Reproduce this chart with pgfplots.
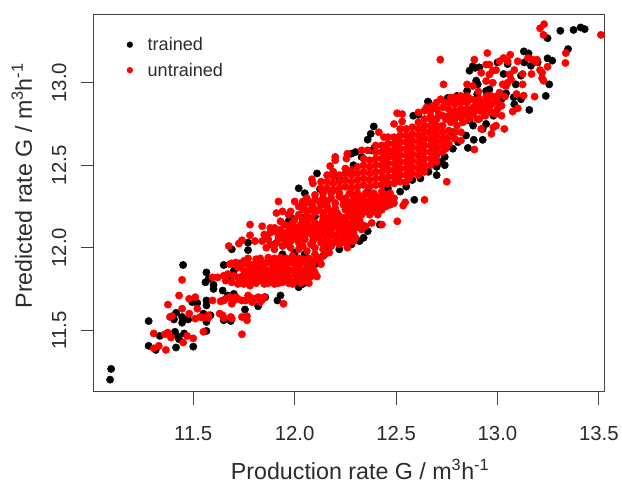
\documentclass[border=0pt]{standalone}
\usepackage{fontspec}
\setmainfont{Liberation Sans}
\usepackage{pgfplots}
\pgfplotsset{compat=1.18}
\definecolor{tx}{HTML}{2B2B2B}
\definecolor{ax}{HTML}{444444}
\begin{document}
\begin{tikzpicture}
\begin{axis}[
  at={(0,0)},anchor=south west,scale only axis,width=512bp,height=379bp,
  xmin=11.009,xmax=13.525,ymin=11.127,ymax=13.417,
  xtick={11.5,12,12.5,13,13.5},ytick={11.5,12,12.5,13},
  xticklabel style={/pgf/number format/fixed,/pgf/number format/fixed zerofill,/pgf/number format/precision=1,yshift=-18bp},
  yticklabel style={/pgf/number format/fixed,/pgf/number format/fixed zerofill,/pgf/number format/precision=1,rotate=90,anchor=south,yshift=11bp},
  /pgf/number format/assume math mode=true,
  tick align=outside,major tick length=13bp,
  tick pos=lower,
  axis line style={color=ax,line width=0.9bp},
  tick style={color=ax,line width=0.8bp},
  tick label style={font=\fontsize{20.5}{22}\selectfont,text=tx},
  xlabel={Production rate G / m\textsuperscript{3}h\textsuperscript{-1}},
  ylabel={Predicted rate G / m\textsuperscript{3}h\textsuperscript{-1}},
  label style={font=\fontsize{23.4}{26}\selectfont,text=tx},
  xlabel style={at={(axis description cs:0.522,-0.232)},anchor=base},
  ylabel style={at={(axis description cs:-0.121,0.545)},anchor=base},
  legend style={at={(axis description cs:0.059,0.949)},anchor=north west,draw=none,fill=none,font=\fontsize{18.2}{20}\selectfont,text=tx,row sep=7bp},
  legend cell align=left,
  legend image post style={mark size=2.9bp},
]
\addplot[only marks,mark=*,mark size=3.7bp,color=black] coordinates {
(11.095,11.265)(11.09,11.20)(11.28,11.555)(11.28,11.405)(11.335,11.465)(11.315,11.38)(11.415,11.395)(11.50,11.40)
(11.41,11.49)(11.425,11.46)(11.43,11.445)(11.455,11.48)(11.415,11.605)(11.405,11.565)(11.445,11.58)(11.445,11.545)
(11.475,11.565)(11.45,11.895)(11.565,11.85)(11.56,11.79)(11.575,11.81)(11.60,11.775)(11.60,11.75)(11.565,11.68)
(11.565,11.65)(11.52,11.665)(11.495,11.67)(11.55,11.60)(11.565,11.55)(11.585,11.59)(11.565,11.495)(11.645,11.74)
(11.67,11.71)(11.70,11.72)(11.65,11.56)(11.685,11.555)(11.755,11.625)(11.82,11.645)(11.855,11.70)(11.93,11.71)
(11.915,11.68)(11.65,11.895)(11.69,11.99)(11.77,11.985)(11.77,12.03)(11.70,11.86)(11.685,11.815)(11.81,11.865)
(11.985,12.18)(11.97,12.16)(12.11,12.45)(12.39,12.735)(12.375,12.69)(12.36,12.655)(12.395,12.61)(12.38,12.59)
(12.29,12.50)(12.28,12.57)(12.585,12.80)(12.61,12.805)(12.66,12.88)(12.59,12.29)(12.42,12.14)(12.25,12.03)
(11.98,12.17)(12.125,12.355)(12.04,12.18)(12.10,12.19)(11.90,12.02)(12.02,11.76)(12.04,11.78)(12.10,11.90)
(12.14,11.95)(12.30,12.32)(12.36,12.34)(12.40,12.28)(12.46,12.36)(12.58,12.41)(12.62,12.42)(12.66,12.46)
(12.28,12.02)(12.32,12.04)(12.22,11.99)(13.31,13.315)(13.375,13.32)(13.41,13.335)(13.43,13.325)(13.247,13.27)
(13.348,13.204)(13.13,13.19)(13.153,13.178)(13.247,13.148)(13.27,13.134)(13.165,13.103)(13.198,13.123)
(13.132,13.123)(12.878,13.1)(12.862,13.073)(12.91,13.093)(12.89,13.09)(13.0,13.123)(13.05,13.113)(13.116,13.043)
(13.03,13.053)(12.895,13.013)(12.903,12.99)(13.09,12.99)(13.255,12.99)(13.238,12.92)(13.116,12.9)(13.157,12.835)
(13.08,12.912)(13.083,12.87)(13.042,12.936)(12.944,12.95)(12.96,12.96)(12.657,12.886)(12.755,12.908)(12.92,12.88)
(12.952,12.87)(12.862,12.77)(12.944,12.75)(12.927,12.72)(12.883,12.654)(12.927,12.654)(12.845,12.68)(12.805,12.64)
(12.854,12.605)(12.674,12.65)(12.78,12.60)(12.74,12.55)(12.70,12.49)(12.72,12.52)(12.80,12.92)(12.98,12.80)
(12.02,12.36)(12.05,12.33)(12.18,12.34)(12.52,12.34)(12.55,12.37)(12.70,12.44)(12.74,12.50)(12.22,12.42)
(12.00,11.97)(12.05,11.96)(11.94,11.96)(12.17,12.00)(12.34,12.06)(12.36,12.10)(12.30,12.20)(12.36,12.22)
(12.48,12.58)(12.30,12.58)(12.33,12.55)(12.78,12.70)(12.88,12.74)(12.90,12.93)(12.85,12.95)(13.02,12.90)
};
\addlegendentry{\hspace{13bp}trained}
\addplot[only marks,mark=*,mark size=3.7bp,color=red] coordinates {
(11.305,11.48)(11.305,11.39)(11.33,11.405)(11.365,11.38)(11.36,11.475)(11.375,11.485)(11.39,11.455)(11.45,11.425)
(11.47,11.465)(11.50,11.45)(11.55,11.49)(11.74,11.475)(11.375,11.655)(11.385,11.58)(11.395,11.585)(11.43,11.71)
(11.445,11.805)(11.445,11.63)(11.48,11.69)(11.51,11.70)(11.52,11.63)(11.48,11.60)(11.51,11.57)(11.535,11.58)
(11.55,11.575)(11.575,11.59)(11.575,11.575)(11.595,11.68)(11.645,11.68)(11.65,11.68)(11.635,11.675)(11.63,11.60)
(11.645,11.59)(11.65,11.575)(11.685,11.58)(11.69,11.57)(11.74,11.58)(11.765,11.585)(11.765,11.56)(11.68,11.70)
(11.70,11.68)(11.74,11.68)(11.76,11.68)(11.80,11.69)(11.84,11.685)(11.85,11.70)(11.945,11.66)(11.595,11.82)
(11.78,12.14)(11.78,12.075)(11.675,12.01)(11.725,12.025)(11.74,12.045)(11.805,12.04)(11.84,12.13)(11.90,12.12)
(11.92,12.28)(11.91,12.21)(11.94,12.22)(11.97,12.20)
(11.66,11.69)(11.72,11.69)(11.78,11.70)(11.82,11.70)(11.71,11.70)(11.79,11.67)(11.83,11.67)(11.77,11.71)(11.69,11.66)
% band 1
(11.68,11.90)(11.71,11.91)(11.74,11.90)(11.77,11.91)(11.80,11.90)(11.83,11.92)(11.86,11.91)(11.89,11.92)(11.92,11.90)
(11.95,11.92)(11.98,11.91)(12.01,11.92)(11.72,11.88)(11.78,11.88)(11.84,11.89)(11.90,11.88)(11.96,11.88)(12.02,11.89)
(11.87,11.94)(11.93,11.94)(11.99,11.95)(12.04,11.93)(11.75,11.92)(11.81,11.93)(12.07,11.90)(12.11,11.93)
(11.69,11.905)(11.73,11.905)(11.76,11.905)(11.82,11.905)(11.88,11.905)(11.94,11.905)(12.00,11.905)(12.03,11.905)(12.06,11.905)(12.09,11.905)
(11.77,11.935)(11.83,11.935)(11.90,11.935)(11.96,11.935)(12.02,11.935)(12.07,11.935)(12.10,11.96)(12.15,11.96)
% band 2
(11.62,11.82)(11.66,11.80)(11.69,11.79)(11.73,11.80)(11.76,11.84)(11.79,11.79)(11.79,11.83)(11.82,11.85)(11.82,11.80)
(11.85,11.78)(11.85,11.83)(11.88,11.80)(11.88,11.84)(11.91,11.85)(11.91,11.81)(11.94,11.79)(11.94,11.83)(11.97,11.82)
(11.97,11.86)(12.0,11.80)(12.0,11.84)(12.03,11.81)(12.03,11.85)(12.06,11.83)(12.06,11.87)(11.76,11.80)(12.09,11.87)
(12.10,11.85)(12.13,11.90)(12.08,11.92)(12.13,11.94)(12.17,11.97)(11.83,11.82)(11.90,11.78)(11.95,11.81)(11.99,11.78)(12.05,11.80)(12.08,11.84)
(11.86,11.865)(11.89,11.865)(11.93,11.865)(11.95,11.865)(11.99,11.865)(12.01,11.865)(12.05,11.865)(12.08,11.865)
(11.74,11.825)(11.77,11.825)(11.80,11.825)(11.86,11.825)(11.89,11.825)(11.92,11.825)(11.96,11.825)(12.02,11.825)(12.05,11.825)(12.08,11.825)(12.11,11.825)
(11.81,11.785)(11.87,11.785)(11.92,11.785)(11.97,11.785)(12.03,11.785)(12.07,11.785)
(11.72,11.82)(11.75,11.86)(11.78,11.86)(11.81,11.86)(11.84,11.86)(11.72,11.78)(11.75,11.78)(11.78,11.77)(11.84,11.80)(11.76,11.82)(11.81,11.84)(11.87,11.82)(11.70,11.83)(11.67,11.84)(11.65,11.83)
% band 3
(11.86,12.00)(11.90,11.99)(11.94,12.01)(11.98,12.00)(12.02,11.99)(12.06,11.98)(12.10,12.00)(12.14,11.99)(12.18,12.01)(12.22,12.02)(12.26,12.00)
(11.84,12.04)(11.87,12.05)(11.91,12.03)(11.95,12.05)(11.98,12.04)(12.02,12.03)(12.05,12.05)(12.09,12.04)(12.13,12.03)(12.16,12.05)(12.20,12.06)(12.24,12.05)(12.27,12.04)(12.30,12.06)
(11.85,12.08)(11.88,12.09)(11.92,12.07)(11.96,12.09)(12.0,12.08)(12.03,12.07)(12.07,12.09)(12.11,12.08)(12.15,12.10)(12.18,12.08)(12.22,12.10)(12.26,12.09)(12.29,12.09)(12.33,12.11)
(11.88,12.12)(11.93,12.11)(11.97,12.13)(12.01,12.12)(12.05,12.11)(12.08,12.13)(12.12,12.12)(12.16,12.14)(12.20,12.13)(12.23,12.14)(12.27,12.13)(12.31,12.15)(12.35,12.13)(12.38,12.15)
(11.93,12.16)(11.99,12.15)(12.03,12.14)(12.06,12.16)(12.10,12.15)(12.14,12.17)(12.18,12.16)(12.21,12.17)(12.25,12.16)(12.29,12.18)
(11.88,12.02)(11.92,12.05)(11.96,12.02)(12.00,12.06)(12.04,12.01)(12.08,12.02)(12.12,12.06)(12.16,12.02)(12.20,12.04)(12.24,12.08)(12.28,12.07)
(11.90,12.10)(11.94,12.09)(11.98,12.11)(12.02,12.10)(12.06,12.13)(12.10,12.11)(12.14,12.13)(12.18,12.11)(12.22,12.12)(12.26,12.12)(12.30,12.12)
(11.95,12.14)(12.00,12.17)(12.04,12.17)(12.08,12.18)(12.12,12.14)(12.16,12.18)(12.20,12.15)(12.24,12.18)(12.28,12.15)(12.33,12.14)(12.32,12.17)
(11.92,12.09)(11.97,12.07)(12.01,12.05)(12.05,12.08)(12.09,12.07)(12.13,12.09)(12.17,12.07)(12.21,12.08)(12.25,12.03)(12.29,12.04)
(12.24,12.11)(12.28,12.11)(12.32,12.13)(12.25,12.07)(12.22,12.04)(12.19,12.03)(12.15,12.07)(12.12,12.09)(12.19,12.14)(12.25,12.14)
% band 4
(11.98,12.22)(12.02,12.20)(12.06,12.22)(12.10,12.21)(12.14,12.21)(12.18,12.22)(12.21,12.21)(12.25,12.23)(12.29,12.22)(12.33,12.23)(12.37,12.24)(12.40,12.23)(12.44,12.25)
(12.02,12.25)(12.05,12.26)(12.09,12.25)(12.13,12.26)(12.16,12.25)(12.20,12.27)(12.24,12.26)(12.28,12.27)(12.31,12.27)(12.35,12.28)(12.39,12.27)(12.43,12.29)(12.47,12.28)(12.49,12.30)
(12.06,12.30)(12.10,12.29)(12.14,12.30)(12.18,12.30)(12.22,12.31)(12.25,12.30)(12.29,12.31)(12.33,12.31)(12.37,12.32)(12.40,12.31)(12.44,12.32)
(12.00,12.28)(12.04,12.28)(12.08,12.27)(12.12,12.28)(12.16,12.28)(12.20,12.24)(12.24,12.29)(12.28,12.24)(12.32,12.29)(12.36,12.26)(12.41,12.29)(12.45,12.27)
(12.04,12.23)(12.08,12.23)(12.12,12.23)(12.16,12.23)(12.42,12.26)(12.31,12.245)(12.35,12.25)(12.39,12.25)(12.46,12.30)
(12.27,12.21)(12.31,12.21)(12.35,12.22)(12.39,12.22)(12.43,12.23)(12.47,12.26)(12.27,12.25)(12.33,12.26)(12.37,12.26)(12.41,12.25)(12.45,12.25)(12.49,12.27)(12.26,12.28)(12.30,12.29)(12.34,12.29)(12.38,12.29)(12.42,12.30)
(12.27,12.33)(12.31,12.33)(12.35,12.33)(12.39,12.33)(12.43,12.34)(12.47,12.33)(12.22,12.33)(12.18,12.33)(12.14,12.33)(12.10,12.32)(12.33,12.20)(12.37,12.20)(12.26,12.19)(12.22,12.19)(12.18,12.19)(12.14,12.19)(12.06,12.19)
(12.535,12.255)(12.545,12.275)(12.64,12.29)(12.506,12.16)(12.75,12.40)(12.41,12.20)(12.43,12.14)
% band 5
(12.2,12.55)(12.2,12.53)(12.26,12.57)(12.255,12.54)(12.175,12.495)(12.085,12.415)(12.09,12.39)(12.33,12.59)(12.36,12.59)
(12.415,12.70)(12.44,12.67)(12.49,12.75)(12.505,12.815)(12.53,12.81)(12.53,12.765)
(12.13,12.36)(12.13,12.40)(12.16,12.36)(12.16,12.40)(12.16,12.44)(12.19,12.35)(12.19,12.39)(12.19,12.43)(12.19,12.46)
(12.22,12.36)(12.22,12.40)(12.22,12.44)(12.25,12.37)(12.25,12.41)(12.25,12.45)(12.25,12.48)(12.28,12.36)(12.28,12.40)(12.28,12.44)(12.28,12.47)
(12.31,12.37)(12.31,12.41)(12.31,12.45)(12.31,12.49)(12.34,12.38)(12.34,12.42)(12.34,12.46)(12.34,12.50)(12.34,12.54)
(12.37,12.37)(12.37,12.41)(12.37,12.45)(12.37,12.49)(12.37,12.53)(12.40,12.38)(12.40,12.42)(12.40,12.46)(12.40,12.50)(12.40,12.54)(12.40,12.58)(12.40,12.62)
(12.43,12.38)(12.43,12.42)(12.43,12.46)(12.43,12.50)(12.43,12.54)(12.43,12.58)(12.43,12.62)(12.46,12.39)(12.46,12.43)(12.46,12.47)(12.46,12.51)(12.46,12.55)(12.46,12.59)(12.46,12.63)(12.46,12.67)
(12.49,12.39)(12.49,12.43)(12.49,12.47)(12.49,12.51)(12.49,12.55)(12.49,12.59)(12.49,12.63)(12.49,12.67)
(12.52,12.40)(12.52,12.44)(12.52,12.48)(12.52,12.52)(12.52,12.56)(12.52,12.60)(12.52,12.64)(12.52,12.68)(12.52,12.72)
(12.55,12.40)(12.55,12.44)(12.55,12.48)(12.55,12.52)(12.55,12.56)(12.55,12.60)(12.55,12.64)(12.55,12.68)(12.55,12.72)
(12.58,12.45)(12.58,12.49)(12.58,12.53)(12.58,12.57)(12.58,12.61)(12.58,12.65)(12.58,12.69)(12.58,12.73)
(12.61,12.44)(12.61,12.48)(12.61,12.52)(12.61,12.56)(12.61,12.60)(12.61,12.64)(12.61,12.68)(12.61,12.72)(12.61,12.76)
(12.64,12.46)(12.64,12.50)(12.64,12.54)(12.64,12.58)(12.64,12.62)(12.64,12.70)(12.64,12.74)(12.64,12.78)
(12.67,12.50)(12.67,12.54)(12.67,12.58)(12.67,12.62)(12.67,12.66)(12.67,12.74)(12.67,12.78)(12.67,12.83)
(12.70,12.52)(12.70,12.56)(12.70,12.60)(12.70,12.64)(12.70,12.68)(12.70,12.72)(12.70,12.78)(12.70,12.84)
(12.73,12.58)(12.73,12.62)(12.73,12.66)(12.73,12.70)(12.73,12.74)(12.73,12.80)(12.73,12.85)
(12.76,12.63)(12.76,12.67)(12.76,12.71)(12.76,12.80)(12.76,12.84)(12.76,12.88)
(12.445,12.42)(12.445,12.48)(12.445,12.53)(12.445,12.56)(12.445,12.60)(12.505,12.41)(12.505,12.45)(12.505,12.49)(12.505,12.53)(12.505,12.57)(12.505,12.61)(12.505,12.65)
(12.565,12.42)(12.565,12.46)(12.565,12.50)(12.565,12.54)(12.565,12.58)(12.565,12.62)(12.565,12.66)(12.625,12.47)(12.625,12.51)(12.625,12.55)(12.625,12.59)(12.625,12.63)(12.625,12.67)
(12.685,12.54)(12.685,12.58)(12.685,12.62)(12.685,12.66)(12.685,12.70)(12.685,12.76)(12.66,12.70)(12.64,12.66)(12.70,12.74)(12.745,12.60)(12.745,12.66)(12.745,12.78)(12.79,12.66)(12.79,12.70)(12.82,12.65)
% upper band
(12.61,12.82)(12.64,12.83)(12.68,12.86)(12.79,12.78)(12.79,12.83)(12.79,12.87)(12.79,12.91)(12.82,12.79)(12.82,12.84)(12.82,12.88)(12.82,12.92)
(12.85,12.80)(12.85,12.84)(12.85,12.88)(12.85,12.92)(12.88,12.81)(12.88,12.85)(12.89,12.89)(12.91,12.78)(12.91,12.83)(12.91,12.86)
(12.94,12.80)(12.94,12.84)(12.95,12.89)(12.97,12.82)(12.97,12.87)(12.97,12.92)(13.0,12.84)(13.0,12.88)(13.0,12.92)(13.02,12.80)(12.80,12.74)(12.82,12.70)
(12.78,12.82)(12.83,12.76)(12.87,12.83)(12.93,12.82)(12.99,12.81)(13.02,12.86)(12.90,12.78)(12.86,12.78)
(12.77,12.91)(12.80,12.89)(12.83,12.90)(12.87,12.90)(12.91,12.90)(12.93,12.87)(12.95,12.92)(12.99,12.90)(12.96,12.85)(12.89,12.83)(12.84,12.82)(12.81,12.81)(12.77,12.76)(12.74,12.88)(12.71,12.81)(12.67,12.80)(12.65,12.85)
(13.23,13.355)(13.21,13.33)(13.227,13.29)(13.51,13.29)(13.337,13.18)(13.335,13.12)(12.718,13.14)(12.886,13.14)(12.95,13.18)(13.03,13.15)(13.01,13.13)
(13.063,13.17)(13.05,13.13)(13.10,13.13)(13.15,13.15)(13.173,13.14)(13.195,13.14)(13.19,13.125)(12.944,13.11)(12.96,13.11)(12.993,13.077)(12.977,13.073)
(12.92,13.06)(12.96,13.05)(13.083,13.077)(13.06,13.05)(13.124,13.053)(13.168,13.053)(13.21,13.077)(13.22,13.06)(13.247,13.097)(13.22,13.027)(13.227,13.012)
(12.734,12.99)(12.85,12.99)(12.878,12.98)(12.944,13.01)(12.977,13.0)(13.026,12.99)(13.05,13.0)(13.067,13.02)(13.042,12.98)(13.124,12.99)(12.906,12.946)
(12.944,12.916)(13.01,12.94)(13.037,12.916)(13.094,12.932)(13.129,12.922)(13.183,12.916)(13.1,12.845)(13.075,12.825)(13.034,12.72)(12.993,12.74)(12.98,12.73)
(12.97,12.69)(12.92,12.72)(12.886,12.595)(12.70,12.88)(12.72,12.90)
};
\addlegendentry{\hspace{13bp}untrained}
\end{axis}
\path[use as bounding box] (-94bp,-92bp) rectangle (528bp,393bp);
\end{tikzpicture}
\end{document}
